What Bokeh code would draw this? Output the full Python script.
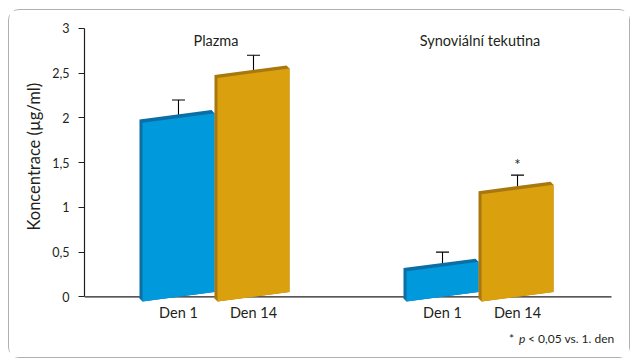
from bokeh.plotting import figure
from bokeh.models import Range1d, FixedTicker, Title
from bokeh.embed import file_html
from bokeh.resources import INLINE
from bokeh.core.properties import value

# ---- data ----
groups = ["Plazma", "Synoviální tekutina"]
days = ["Den 1", "Den 14"]
plazma_mean = [2.0, 2.5]
plazma_err = [0.2, 0.2]
synov_mean = [0.34, 1.2]
synov_err = [0.16, 0.16]
synov_significant = [False, True]
y_ticks = [0, 0.5, 1, 1.5, 2, 2.5, 3]
y_tick_labels = ["0", "0,5", "1", "1,5", "2", "2,5", "3"]
y_label = "Koncentrace (µg/ml)"
note_star = "*"
note_p = "p"
note_rest = "< 0,05 vs. 1. den"

# ---- style ----
FONT = "Lato"
TXT = "#231F20"
FRONT = ["#0099DC", "#DAA00D"]
DARK = ["#0B6EA4", "#A8780F"]
GAP = 2.52      # extra space between groups (x units)
PAD = 1.253     # space between axis ends and outer bars
HW = 0.48       # half bar width
SK = 0.053      # skew of the bar faces (y units)
DX, DY = 0.04, 0.034  # depth of the 3D edge
CAP = 0.087

positions = [gi * (1 + GAP) + si for gi in range(len(groups)) for si in range(len(days))]
x_start = positions[0] - PAD
x_axis_end = positions[-1] + PAD

p = figure(width=622, height=349,
           x_range=Range1d(x_start, x_axis_end + 0.12), y_range=Range1d(-0.6, 3.1),
           output_backend="svg", toolbar_location=None,
           min_border_left=75, min_border_right=11,
           min_border_top=9, min_border_bottom=9,
           styles={"border": "1px solid #B0B0B0", "border-radius": "11px",
                   "margin-left": "8px", "margin-top": "9px"})
p.grid.visible = False
p.outline_line_color = None
p.background_fill_color = "white"
p.border_fill_color = "white"

# x axis line at 0 (under the bars)
p.segment(x0=[x_start], y0=[0], x1=[x_axis_end], y1=[0], line_color=TXT, line_width=1.2)

pos_labels = {}
all_means = [plazma_mean, synov_mean]
all_errs = [plazma_err, synov_err]
k = 0
for gi in range(len(groups)):
    for si in range(len(days)):
        c = positions[k]
        k += 1
        pos_labels[c] = days[si]
        v = all_means[gi][si]
        e = all_errs[gi][si]
        p.segment(x0=[c], y0=[v], x1=[c], y1=[v + e], line_color="black", line_width=1.1)
        p.segment(x0=[c - CAP], y0=[v + e], x1=[c + CAP], y1=[v + e],
                  line_color="black", line_width=1.1)
        L, R = c - HW, c + HW
        hull_x = [L, L - DX, L - DX, R - DX, R, R]
        hull_y = [-SK, -SK + DY, v - SK + DY, v + SK + DY, v + SK, SK]
        p.patch(hull_x, hull_y, fill_color=DARK[si], line_color=None)
        p.patch([L, L, R, R], [-SK, v - SK, v + SK, SK],
                fill_color=FRONT[si], line_color=None)
        if gi == 1 and synov_significant[si]:
            p.text(x=[c], y=[v + e + 0.13], text=["*"], text_align="center",
                   text_baseline="middle", text_font=value(FONT),
                   text_font_size="15px", text_color=TXT)

# group titles
p.text(x=[gi * (1 + GAP) + 0.5 for gi in range(len(groups))],
       y=[2.87] * len(groups), text=groups, text_align="center",
       text_baseline="middle", text_font=value(FONT), text_font_size="14.5px",
       text_color=TXT)

# x axis: labels only, placed at y = 0
xa = p.xaxis[0]
xa.fixed_location = 0
xa.ticker = FixedTicker(ticks=positions)
xa.major_label_overrides = pos_labels
xa.axis_line_color = None
xa.major_tick_line_color = None
xa.minor_tick_line_color = None
xa.major_tick_out = 0
xa.major_tick_in = 0
xa.major_label_standoff = 7
xa.major_label_text_font = FONT
xa.major_label_text_font_size = "14.5px"
xa.major_label_text_color = TXT

# y axis
ya = p.yaxis[0]
ya.ticker = FixedTicker(ticks=y_ticks)
ya.major_label_overrides = {t: l for t, l in zip(y_ticks, y_tick_labels)}
ya.bounds = (0, 3)
ya.axis_line_color = TXT
ya.axis_line_width = 1.2
ya.major_tick_line_color = TXT
ya.major_tick_out = 6
ya.major_tick_in = 0
ya.minor_tick_line_color = None
ya.major_label_standoff = 9
ya.major_label_text_font = FONT
ya.major_label_text_font_size = "12.5px"
ya.major_label_text_color = TXT

# y axis title (left side, starting near the lower part of the axis)
p.add_layout(Title(text=y_label, align="left", offset=120, standoff=12,
                   text_font=FONT, text_font_size="16.5px", text_font_style="normal",
                   text_color=TXT), "left")

# footnote (right aligned at the right end)
fy = -0.47
FN = "12px"
note_end = x_axis_end + 0.04
p.text(x=[note_end], y=[fy], text=[note_rest], text_align="right",
       text_baseline="middle", text_font=value(FONT), text_font_size=FN,
       text_color=TXT)
p.text(x=[note_end - 1.19], y=[fy], text=[note_p], text_align="right",
       text_baseline="middle", text_font=value(FONT), text_font_size=FN,
       text_font_style="italic", text_color=TXT)
p.text(x=[note_end - 1.34], y=[fy], text=[note_star], text_align="right",
       text_baseline="middle", text_font=value(FONT), text_font_size=FN,
       text_color=TXT)

open("out.html", "w").write(file_html(p, INLINE))
